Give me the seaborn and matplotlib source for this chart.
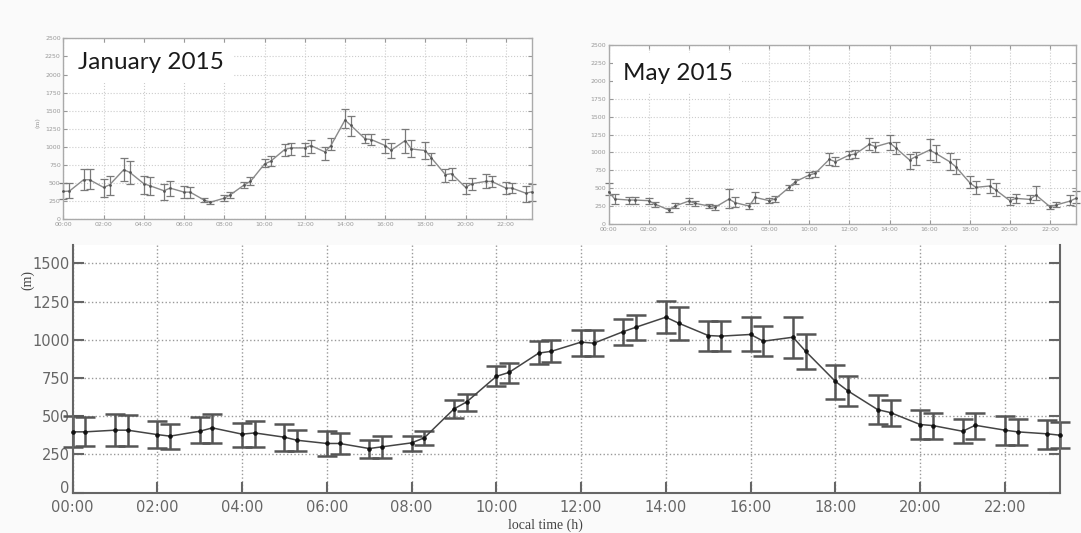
import matplotlib
matplotlib.use('Agg')
import pandas as pd
import matplotlib.pyplot as plt
import matplotlib.transforms as mtransforms
import seaborn as sns

# hour of day for each sample (on the hour and 18 min later)
hours = [0, 0.3, 1, 1.3, 2, 2.3, 3, 3.3, 4, 4.3, 5, 5.3,
         6, 6.3, 7, 7.3, 8, 8.3, 9, 9.3, 10, 10.3, 11, 11.3,
         12, 12.3, 13, 13.3, 14, 14.3, 15, 15.3, 16, 16.3, 17, 17.3,
         18, 18.3, 19, 19.3, 20, 20.3, 21, 21.3, 22, 22.3, 23, 23.3]
tick_hours = [0, 2, 4, 6, 8, 10, 12, 14, 16, 18, 20, 22]
tick_labels = ['00:00', '02:00', '04:00', '06:00', '08:00', '10:00',
               '12:00', '14:00', '16:00', '18:00', '20:00', '22:00']

# all data (bottom panel)
all_mean = [398, 398, 409, 409, 380, 370, 402, 424, 383, 391, 363, 343,
            322, 322, 289, 300, 326, 359, 548, 594, 761, 787, 913, 925,
            985, 978, 1054, 1083, 1148, 1109, 1028, 1024, 1035, 991, 1017, 924,
            728, 665, 543, 524, 446, 439, 402, 441, 409, 398, 385, 376]
all_lo = [296, 304, 307, 307, 291, 287, 322, 328, 300, 300, 272, 272,
          239, 252, 228, 230, 274, 313, 489, 535, 696, 720, 843, 854,
          896, 896, 967, 1000, 1043, 1000, 930, 930, 924, 891, 883, 811,
          613, 565, 448, 439, 350, 354, 322, 348, 315, 315, 283, 290]
all_hi = [502, 496, 513, 509, 467, 450, 496, 517, 454, 467, 452, 413,
          402, 391, 343, 372, 372, 406, 609, 648, 830, 850, 991, 996,
          1061, 1061, 1139, 1165, 1257, 1213, 1122, 1122, 1148, 1093, 1152, 1039,
          837, 763, 641, 609, 539, 524, 483, 524, 504, 485, 478, 465]

# January 2015
jan_mean = [384, 390, 546, 546, 440, 477, 685, 648, 491, 463, 394, 431,
            375, 375, 265, 235, 292, 338, 477, 523, 764, 801, 963, 986,
            986, 1019, 931, 1019, 1370, 1296, 1111, 1102, 1019, 954, 1088, 972,
            949, 847, 616, 630, 440, 491, 523, 523, 431, 431, 360, 380]
jan_lo = [282, 290, 398, 420, 305, 338, 523, 491, 347, 338, 269, 315,
          292, 292, 240, 215, 255, 292, 431, 477, 718, 741, 870, 894,
          880, 917, 824, 954, 1264, 1148, 1056, 1023, 917, 847, 917, 857,
          833, 755, 509, 546, 347, 407, 431, 444, 352, 361, 245, 250]
jan_hi = [500, 495, 699, 699, 560, 593, 847, 801, 602, 583, 491, 532,
          454, 444, 300, 255, 338, 370, 509, 579, 838, 870, 1042, 1056,
          1056, 1102, 995, 1116, 1528, 1426, 1181, 1181, 1111, 1056, 1250, 1093,
          1065, 917, 694, 708, 500, 569, 630, 602, 509, 500, 463, 490]

# May 2015
may_mean = [452, 349, 335, 335, 326, 279, 196, 251, 321, 289, 251, 233,
            349, 298, 251, 372, 326, 349, 512, 591, 684, 708, 903, 870,
            964, 978, 1113, 1080, 1136, 1066, 894, 940, 1033, 987, 870, 801,
            577, 512, 531, 475, 326, 358, 344, 405, 242, 265, 320, 360]
may_lo = [400, 279, 279, 279, 279, 242, 172, 219, 275, 251, 219, 196,
          219, 233, 205, 289, 289, 312, 475, 559, 638, 661, 824, 815,
          903, 917, 1033, 1010, 1033, 978, 768, 824, 894, 870, 754, 698,
          498, 419, 438, 391, 265, 289, 289, 335, 205, 233, 265, 290]
may_hi = [577, 419, 382, 372, 368, 312, 228, 289, 368, 326, 275, 265,
          484, 382, 298, 452, 358, 391, 545, 624, 731, 745, 987, 931,
          1024, 1033, 1196, 1150, 1243, 1150, 978, 1001, 1182, 1103, 987, 903,
          670, 600, 624, 568, 382, 419, 405, 531, 265, 312, 400, 460]

sns.set_theme(style='white')
plt.rcParams['font.family'] = ['DejaVu Sans']


def draw_panel(ax, mean, lo, hi, line_c, bar_c, dot_c, lw, bar_lw, cap, ms):
    df = pd.DataFrame({'hour': hours, 'mean': mean, 'lo': lo, 'hi': hi})
    yerr = [df['mean'] - df['lo'], df['hi'] - df['mean']]
    ax.errorbar(df['hour'], df['mean'], yerr=yerr, fmt='none', ecolor=bar_c,
                elinewidth=bar_lw, capsize=cap, capthick=bar_lw, zorder=2,
                clip_on=False)
    sns.lineplot(data=df, x='hour', y='mean', ax=ax, color=line_c, lw=lw,
                 marker='o', markersize=ms, markerfacecolor=dot_c,
                 markeredgecolor=dot_c, zorder=3, clip_on=False)
    ax.set_xlim(0, 23.3)
    ax.set_xticks(tick_hours)
    ax.set_xticklabels(tick_labels)
    ax.set_xlabel('')
    ax.set_ylabel('')


fig = plt.figure(figsize=(10.81, 5.33), dpi=100)
fig.patch.set_facecolor('#fafafa')

# ---- bottom, all data ----
ax = fig.add_axes([0.0671, 0.0756, 0.9135, 0.4647])
ax.set_facecolor('white')
draw_panel(ax, all_mean, all_lo, all_hi, '#444444', '#555555', '#111111',
           1.1, 1.8, 7, 2.5)
ax.set_ylim(0, 1620)
ax.set_yticks([0, 250, 500, 750, 1000, 1250, 1500])
ax.grid(True, ls=':', color='#999999', lw=1)
for s in ['left', 'bottom', 'right']:
    ax.spines[s].set_color('#666666')
    ax.spines[s].set_linewidth(1.5)
ax.spines['top'].set_visible(False)
ax.tick_params(direction='in', length=8, width=1.5, color='#666666',
               labelsize=10.5, labelcolor='#666666', left=True, bottom=True,
               right=True)
ax.tick_params(axis='x', pad=5)
ax.tick_params(axis='y', pad=2)
# lift the "0" label a little so it sits above the 00:00 label
zero_lbl = ax.get_yticklabels()[0]
zero_lbl.set_transform(zero_lbl.get_transform() +
                       mtransforms.ScaledTranslation(0, 4 / 72, fig.dpi_scale_trans))
fig.text(0.026, 0.475, '(m)', family='Liberation Serif', fontsize=10,
         color='#444444', rotation=90, ha='center', va='center')
fig.text(0.505, 0.014, 'local time (h)', family='Liberation Serif',
         fontsize=10, color='#444444', ha='center', va='center')

# ---- insets ----
insets = [
    ([0.0587, 0.5886, 0.4334, 0.3395], jan_mean, jan_lo, jan_hi,
     'January 2015', 0.072, 0.882),
    ([0.5631, 0.5797, 0.4323, 0.3359], may_mean, may_lo, may_hi,
     'May 2015', 0.576, 0.863),
]
for rect, m, lo, hi, title, tx, ty in insets:
    a = fig.add_axes(rect)
    a.set_facecolor('white')
    draw_panel(a, m, lo, hi, '#8a8a8a', '#7a7a7a', '#555555', 1.0, 0.9, 3, 1.2)
    a.set_ylim(0, 2500)
    a.set_yticks(range(0, 2501, 250))
    a.grid(True, ls=':', color='#cccccc', lw=0.8)
    for s in a.spines.values():
        s.set_color('#aaaaaa')
        s.set_linewidth(1.0)
    a.tick_params(direction='in', length=3, width=0.8, color='#999999',
                  labelsize=4.5, labelcolor='#999999', left=True, bottom=True,
                  right=True, top=True, pad=2)
    fig.text(tx, ty, title, family='Lato', fontsize=17.5, color='#1a1a1a',
             ha='left', va='center',
             bbox=dict(facecolor='white', edgecolor='none', pad=7))

fig.text(0.035, 0.77, '(m)', family='DejaVu Serif', fontsize=4.5,
         color='#999999', rotation=90, ha='center', va='center')

fig.savefig('out.png', dpi=100, facecolor=fig.get_facecolor())
